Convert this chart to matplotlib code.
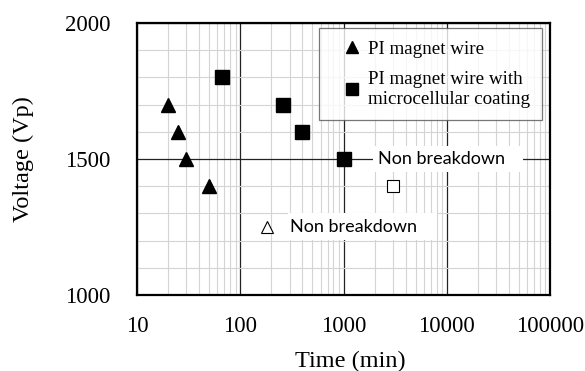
import matplotlib
matplotlib.use("Agg")
import matplotlib.pyplot as plt
from matplotlib.ticker import FixedLocator, NullFormatter, LogLocator
from matplotlib.patches import Rectangle

pi_time = [20, 25, 30, 50]
pi_volt = [1700, 1600, 1500, 1400]
mc_time = [66, 260, 400, 1000]
mc_volt = [1800, 1700, 1600, 1500]
mc_nb_time = [3000]
mc_nb_volt = [1400]
pi_nb_time = [180]
pi_nb_volt = [1250]
xticks = [10, 100, 1000, 10000, 100000]
yticks = [1000, 1500, 2000]

serif = ['Liberation Serif', 'DejaVu Serif']
sans = ['Lato', 'Open Sans', 'DejaVu Sans']

fig = plt.figure(figsize=(5.85, 3.71), dpi=100)
ax = fig.add_axes([137/585, 1-295/371, (550-137)/585, (295-23)/371])
ax.set_xscale('log')
ax.set_xlim(10, 100000)
ax.set_ylim(1000, 2000)

ax.xaxis.set_major_locator(FixedLocator(xticks))
ax.xaxis.set_minor_locator(LogLocator(base=10, subs=range(2, 10)))
ax.xaxis.set_minor_formatter(NullFormatter())
ax.yaxis.set_major_locator(FixedLocator(yticks))
ax.yaxis.set_minor_locator(FixedLocator(list(range(1100, 2000, 100))))
ax.set_xticklabels([str(v) for v in xticks], fontfamily=serif, fontsize=16.5)
ax.set_yticklabels([str(v) for v in yticks], fontfamily=serif, fontsize=16.5)
ax.tick_params(which='both', length=0)
ax.tick_params(axis='x', pad=15)
ax.tick_params(axis='y', pad=19)
ax.grid(True, which='minor', color='#d4d4d4', lw=0.8)
ax.grid(True, which='major', color='#222222', lw=0.9)
ax.set_axisbelow(True)
for s in ax.spines.values():
    s.set_linewidth(1.6)
    s.set_zorder(5)

ax.set_xlabel('Time (min)', fontfamily=serif, fontsize=17.5)
ax.xaxis.label.set_va('center')
ax.xaxis.set_label_coords(0.517, -(361-295)/272)
ax.set_ylabel('Voltage (Vp)', fontfamily=serif, fontsize=17.5)
ax.yaxis.label.set_va('center')
ax.yaxis.set_label_coords(-(137-23)/413, 0.5)

# white label boxes
ax.add_patch(Rectangle((1930, 1452), 54700-1930, 96, facecolor='white', edgecolor='none', zorder=2))
ax.add_patch(Rectangle((290, 1202), 8050-290, 99, facecolor='white', edgecolor='none', zorder=2))

h1, = ax.plot(pi_time, pi_volt, '^', color='black', ms=10, ls='none', zorder=4)
h2, = ax.plot(mc_time, mc_volt, 's', color='black', ms=10, ls='none', zorder=4)
ax.plot(mc_nb_time, mc_nb_volt, 's', mfc='white', mec='black', mew=0.8, ms=9, ls='none', zorder=4)

ax.text(2180, 1500, 'Non breakdown', fontfamily=sans, fontsize=13, va='center', ha='left', zorder=3)
ax.plot(pi_nb_time, pi_nb_volt, '^', mfc='white', mec='black', mew=0.8, ms=9, ls='none', zorder=4)
ax.text(300, 1250, 'Non breakdown', fontfamily=sans, fontsize=13, va='center', ha='left', zorder=3)

leg = ax.legend([h1, h2], ['PI magnet wire', 'PI magnet wire with\nmicrocellular coating'],
                loc='upper right', bbox_to_anchor=((542-137)/413, 0.982), prop={'family': serif, 'size': 13.7},
                frameon=True, fancybox=False, handletextpad=-0.3, handlelength=2.2,
                borderpad=0.65, labelspacing=0.7, markerscale=0.85, borderaxespad=0)
leg.get_frame().set_edgecolor('#555555')
leg.get_frame().set_linewidth(0.9)
leg.set_zorder(6)

fig.savefig('out.png', dpi=100)
